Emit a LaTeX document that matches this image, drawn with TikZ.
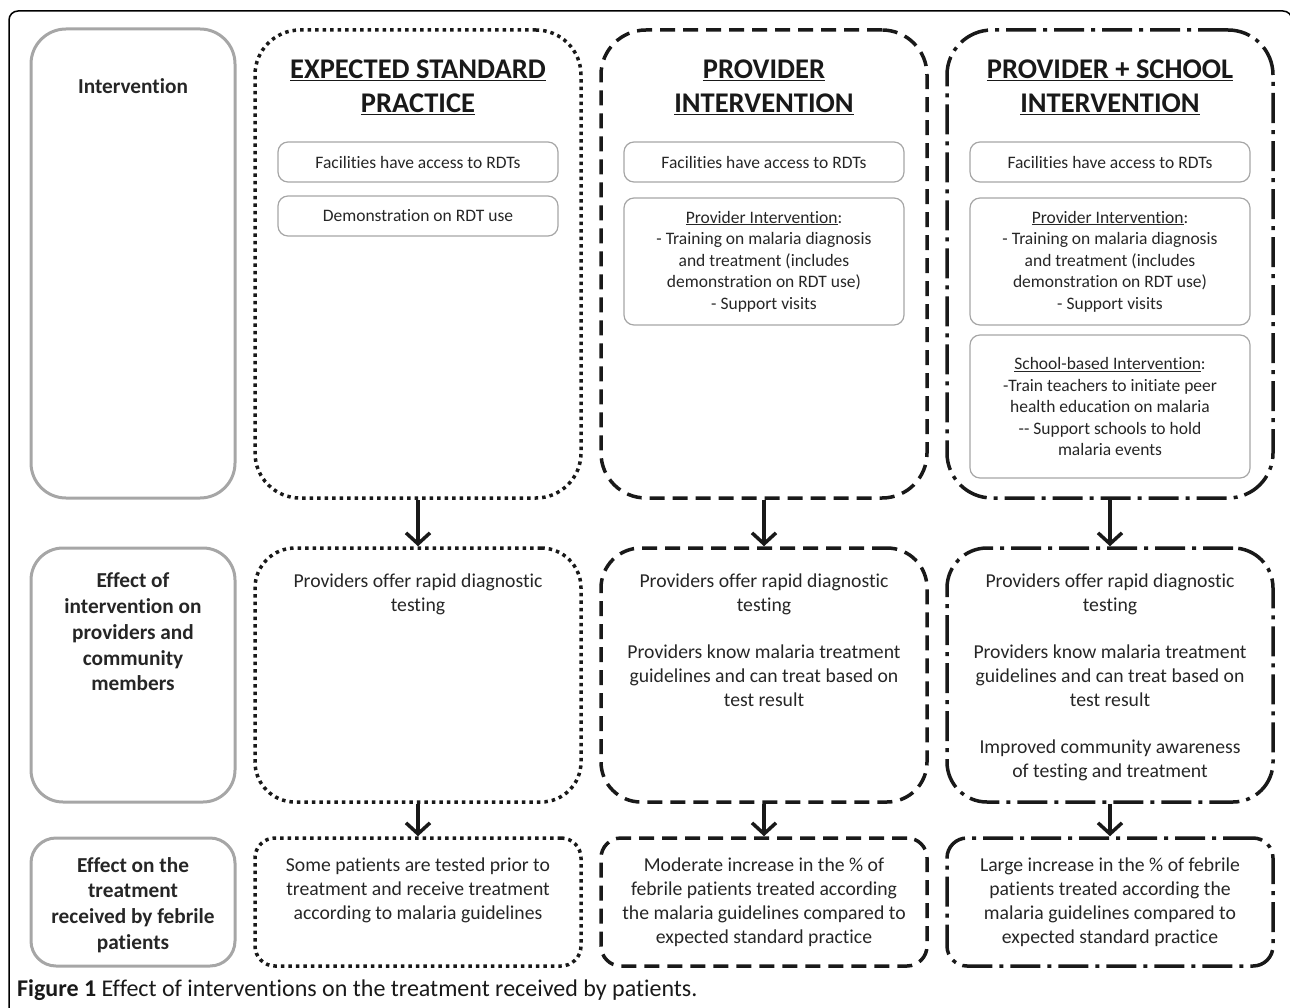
\documentclass[tikz,border=0pt]{standalone}
\usepackage{fontspec}
\setmainfont{Carlito}[Ligatures={NoCommon}]
\usetikzlibrary{arrows.meta}
\begin{document}
\begin{tikzpicture}[x=1pt,y=-1pt,
  lab/.style={font=\bfseries\fontsize{21.3}{25.8}\selectfont, align=center, text=black!85},
  body/.style={font=\fontsize{19.7}{24}\selectfont, align=center, text=black!85, inner sep=0pt},
  small/.style={font=\fontsize{17.5}{21.5}\selectfont, align=center, text=black!85},
  ttl/.style={font=\bfseries\fontsize{28.5}{34}\selectfont, align=center, text=black!90},
  graybox/.style={draw=black!35, line width=3pt, minimum width=204pt},
  inbox/.style={draw=black!35, line width=1.2pt, rounded corners=10pt, minimum width=280pt, small},
  big/.style={draw=black!90, line width=3.5pt, minimum width=326pt},
  dotbox/.style={big, dash pattern=on 3.5pt off 4pt},
  dashbox/.style={big, dash pattern=on 15pt off 8pt},
  ddbox/.style={big, dash pattern=on 30pt off 7pt on 4pt off 7pt},
  r1/.style={minimum height=468pt, rounded corners=45pt},
  r2/.style={minimum height=254pt, rounded corners=40pt},
  r3/.style={minimum height=128pt, rounded corners=20pt},
  arr/.style={line width=3.5pt, draw=black!90, -{Straight Barb[length=11pt,width=24pt,line width=3.5pt]}}
]
\useasboundingbox (0,0) rectangle (1290,1008);
% outer frame
\draw[line width=1.5pt, rounded corners=9pt] (9,1040) -- (9,11) -- (1292,11) -- (1292,1040);

% left gray boxes
\node[graybox, minimum height=469pt, rounded corners=35pt] (g1) at (133,263.5) {};
\node[graybox, minimum height=254pt, rounded corners=32pt] (g2) at (133,675) {};
\node[graybox, minimum height=128pt, rounded corners=25pt] (g3) at (133,902) {};
\node[lab] (l1) at (133,86) {Intervention};
\node[lab] (l2) at (133,632) {Effect of\\intervention on\\providers and\\community\\members};
\node[lab] (l3) at (133,905) {Effect on the\\treatment\\received by febrile\\patients};

% row 1
\node[dotbox, r1] (a1) at (418,264) {};
\node[dashbox, r1] (b1) at (764,264) {};
\node[ddbox, r1] (c1) at (1110,264) {};
\node[ttl] (ta) at (418,87) {\underline{EXPECTED STANDARD}\\\underline{PRACTICE}};
\node[ttl] (tb) at (764,87) {\underline{PROVIDER}\\\underline{INTERVENTION}};
\node[ttl] (tc) at (1110,87) {\underline{PROVIDER + SCHOOL}\\\underline{INTERVENTION}};

\node[inbox, minimum height=40pt] (fa) at (418,162) {Facilities have access to RDTs};
\node[inbox, minimum height=40pt] (da) at (418,216) {Demonstration on RDT use};
\node[inbox, minimum height=40pt] (fb) at (764,162) {Facilities have access to RDTs};
\node[inbox, minimum height=127pt] (pb) at (764,261.5) {\underline{Provider Intervention}:\\- Training on malaria diagnosis\\and treatment (includes\\demonstration on RDT use)\\- Support visits};
\node[inbox, minimum height=40pt] (fc) at (1110,162) {Facilities have access to RDTs};
\node[inbox, minimum height=127pt] (pc) at (1110,261.5) {\underline{Provider Intervention}:\\- Training on malaria diagnosis\\and treatment (includes\\demonstration on RDT use)\\- Support visits};
\node[inbox, minimum height=143pt] (sc) at (1110,406.5) {\underline{School-based Intervention}:\\-Train teachers to initiate peer\\health education on malaria\\{-}{-} Support schools to hold\\malaria events};

% row 2
\node[dotbox, r2] (a2) at (418,675) {};
\node[dashbox, r2] (b2) at (764,675) {};
\node[ddbox, r2] (c2) at (1110,675) {};
\node[body, anchor=north] (ta2) at (418,574) {Providers offer rapid diagnostic\\testing};
\node[body, anchor=north] (tb2) at (764,574) {Providers offer rapid diagnostic\\testing\\[23pt]Providers know malaria treatment\\guidelines and can treat based on\\test result};
\node[body, anchor=north] (tc2) at (1110,574) {Providers offer rapid diagnostic\\testing\\[23pt]Providers know malaria treatment\\guidelines and can treat based on\\test result\\[23pt]Improved community awareness\\of testing and treatment};

% row 3
\node[body] (ta3) at (418,890) {Some patients are tested prior to\\treatment and receive treatment\\according to malaria guidelines};
\node[dotbox, r3] (a3) at (418,902) {};
\node[dashbox, r3] (b3) at (764,902) {};
\node[ddbox, r3] (c3) at (1110,902) {};
\node[body] (tb3) at (764,902) {Moderate increase in the \% of\\febrile patients treated according\\the malaria guidelines compared to\\expected standard practice};
\node[body] (tc3) at (1110,902) {Large increase in the \% of febrile\\patients treated according the\\malaria guidelines compared to\\expected standard practice};

% arrows
\draw[arr] (a1.south) -- (a2.north);
\draw[arr] (b1.south) -- (b2.north);
\draw[arr] (c1.south) -- (c2.north);
\draw[arr] (a2.south) -- (a3.north);
\draw[arr] (b2.south) -- (b3.north);
\draw[arr] (c2.south) -- (c3.north);

% caption
\node[anchor=west, font=\fontsize{24}{28}\selectfont, inner sep=0pt, text=black!90] (cap) at (17,990) {\textbf{Figure 1} Effect of interventions on the treatment received by patients.};
\end{tikzpicture}
\end{document}
